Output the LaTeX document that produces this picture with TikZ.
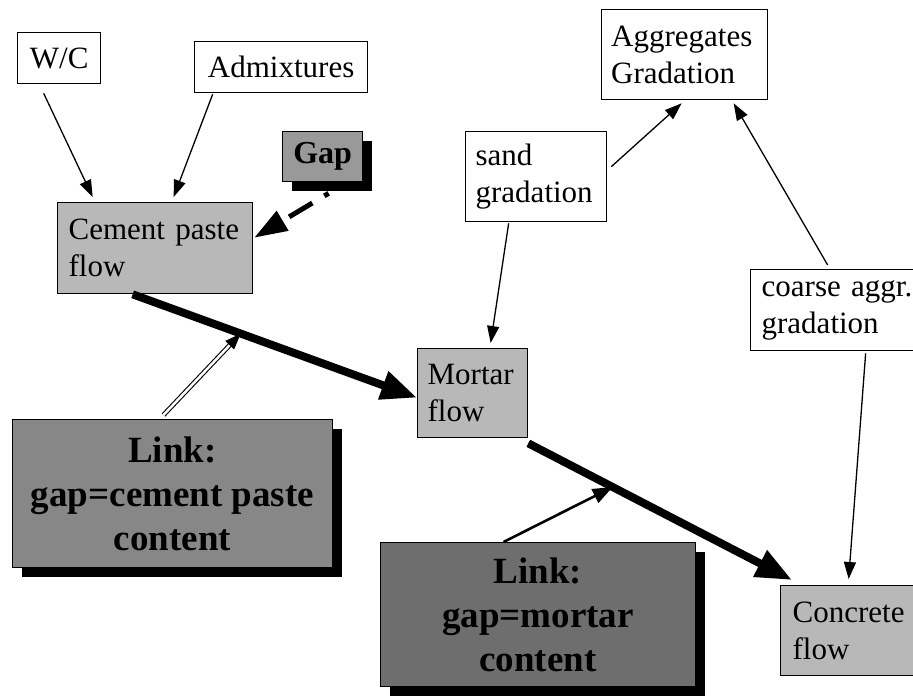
\documentclass[tikz,border=0pt]{standalone}
\usepackage{fontspec}
\setmainfont{Liberation Serif}
\usetikzlibrary{arrows.meta,shadows,calc}
\begin{document}
\begin{tikzpicture}[x=1pt,y=-1pt,
  box/.style={draw, line width=1.3pt, anchor=north west, inner sep=0pt, font=\fontsize{31}{37}\selectfont},
  wbox/.style={box, fill=white},
  gbox/.style={box, fill=black!28},
  blackshadow/.style={drop shadow={shadow xshift=9pt, shadow yshift=-9pt, fill=black, opacity=1}},
  linkbox/.style={box, line width=1pt, font=\fontsize{37}{44}\selectfont\bfseries, align=center, blackshadow},
  thinarrow/.style={line width=1.3pt, -{Triangle[length=17pt,width=12pt]}},
  thickarrow/.style={line width=8pt, -{Triangle[length=36pt,width=28pt]}},
  midarrow/.style={line width=2.6pt, -{Triangle[length=20pt,width=15pt]}},
]
\useasboundingbox (0,0) rectangle (913,699);

% nodes
\node[wbox, minimum width=83pt, minimum height=51pt] (wc) at (17,32) {W/C};
\node[wbox, minimum width=173pt, minimum height=51pt] (adm) at (194,41) {Admixtures};
\node[box, fill=black!40, font=\fontsize{32}{37}\selectfont\bfseries, minimum width=80pt, minimum height=50pt, blackshadow] (gap) at (282,131) {Gap};
\node[gbox, minimum width=195pt, minimum height=91pt, text width=173pt, align=left] (cem) at (57,202) {Cement paste\\flow};
\node[gbox, minimum width=110pt, minimum height=89pt, text width=90pt, align=left] (mor) at (417,348) {Mortar\\flow};
\node[wbox, minimum width=166pt, minimum height=90pt, text width=147pt, align=left] (agg) at (601,9) {Aggregates\\Gradation};
\node[wbox, minimum width=141pt, minimum height=90pt, text width=121pt, align=left] (sand) at (465,131) {sand\\gradation};
\node[wbox, minimum width=180pt, minimum height=81pt, text width=158pt, align=left] (coarse) at (750,269) {coarse aggr.\\gradation};
\node[gbox, minimum width=142pt, minimum height=90pt, text width=118pt, align=left] (conc) at (780,585) {Concrete\\flow};
\node[linkbox, fill=black!47, minimum width=320pt, minimum height=148pt] (link1) at (12,419) {Link:\\gap=cement paste\\content};
\node[linkbox, fill=black!57, minimum width=315pt, minimum height=144pt] (link2) at (380,542) {Link:\\gap=mortar\\content};

% connectors
\draw[thinarrow] ([xshift=-15.5pt,yshift=-9pt]wc.south) -- ([xshift=-62.5pt,yshift=5pt]cem.north);
\draw[thinarrow] ([xshift=-68.5pt,yshift=-1pt]adm.south) -- ([xshift=18.5pt,yshift=5pt]cem.north);
\draw[line width=5pt, dash pattern=on 5pt off 14pt on 27pt off 30pt, -{Triangle[length=33pt,width=22pt]}]
  ([xshift=6pt,yshift=-11pt]gap.south) -- ([xshift=1pt,yshift=10.5pt]cem.east);

\draw[thickarrow] ([xshift=-22.5pt]cem.south) -- coordinate[pos=0.38] (j1) ([yshift=-4.5pt]mor.west);
\draw[thickarrow] ([yshift=-5pt]mor.south east) -- coordinate[pos=0.32] (j2) ([xshift=12pt,yshift=5pt]conc.north west);

\draw[line width=1.1pt, double, double distance=2.5pt, shorten >=14pt]
  ([xshift=-9pt,yshift=4pt]link1.north) coordinate (d1) -- (j1);
\draw[line width=1pt, -{Triangle[length=16pt,width=12pt]}] ($(j1)!16pt!(d1)$) -- (j1);
\draw[midarrow] ([xshift=-34.5pt]link2.north) -- (j2);

\draw[thinarrow] ([xshift=4pt,yshift=10pt]sand.east) -- ([xshift=-3pt,yshift=-3pt]agg.south);
\draw[thinarrow] ([xshift=-13pt,yshift=4pt]coarse.north) -- ([xshift=49pt,yshift=-3pt]agg.south);
\draw[thinarrow] ([xshift=-27.5pt,yshift=-1pt]sand.south) -- ([xshift=18pt,yshift=5pt]mor.north);
\draw[thinarrow] ([xshift=25pt,yshift=-2pt]coarse.south) -- ([xshift=-3pt,yshift=6pt]conc.north);
\end{tikzpicture}
\end{document}
